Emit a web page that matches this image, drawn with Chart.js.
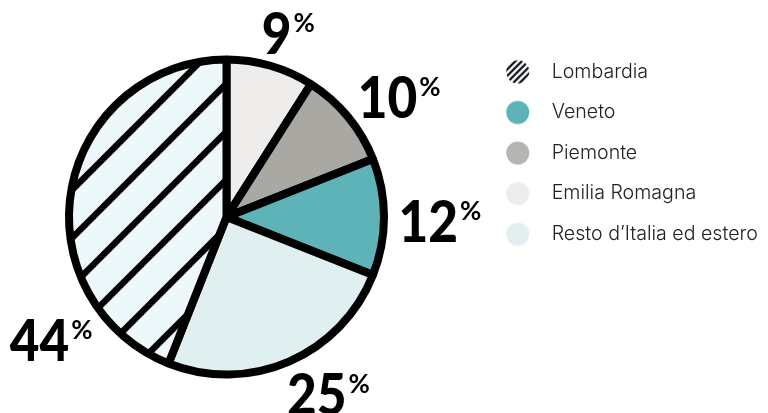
<!DOCTYPE html>
<html><head><meta charset="utf-8">
<script src="https://cdn.jsdelivr.net/npm/chart.js@4.4.1/dist/chart.umd.min.js"></script>
<style>html,body{margin:0;padding:0;background:#fff;} #wrap{width:768px;height:413px;position:relative;}</style>
</head><body><div id="wrap"><canvas id="c"></canvas></div>
<script>
// ---- data ----
const categories = ['Emilia Romagna', 'Piemonte', 'Veneto', 'Resto d’Italia ed estero', 'Lombardia'];
const shares = [9, 10, 12, 25, 44];
const legendOrder = ['Lombardia', 'Veneto', 'Piemonte', 'Emilia Romagna', 'Resto d’Italia ed estero'];

// ---- styles ----
const fills = {
  'Emilia Romagna': '#eeedeb',
  'Piemonte': '#a9a8a3',
  'Veneto': '#5db3b8',
  'Resto d’Italia ed estero': '#e0eff0',
  'Lombardia': '#eef7f9'
};
const legendFills = {
  'Emilia Romagna': '#eeedeb',
  'Piemonte': '#b5b5b1',
  'Veneto': '#5db3b8',
  'Resto d’Italia ed estero': '#e1eff0',
  'Lombardia': '#eef7f9'
};
const LEG_FONT = {family: 'Inter', size: 19.6, weight: 300};

// layout targets
const pieCX = 226.5;
const LEG_PAD = 21;
const textX = 551.7, circleX = 517.7;

// measure legend text to size the legend
const mctx = document.createElement('canvas').getContext('2d');
mctx.font = LEG_FONT.weight + ' ' + LEG_FONT.size + 'px ' + LEG_FONT.family;
const maxTextW = Math.max(...legendOrder.map(t => mctx.measureText(t).width));

let legendLeft = 2 * pieCX;
let LEG_BOX = textX - legendLeft - LEG_PAD - LEG_FONT.size / 2;
let legendWidth = LEG_PAD + LEG_BOX + LEG_FONT.size / 2 + maxTextW + 10;
let padRight = 768 - legendLeft - legendWidth;
let padLeft = 0;
if (padRight < 0) {
  legendLeft = 768 - legendWidth;
  LEG_BOX = textX - legendLeft - LEG_PAD - LEG_FONT.size / 2;
  legendWidth = LEG_PAD + LEG_BOX + LEG_FONT.size / 2 + maxTextW + 10;
  legendLeft = 768 - legendWidth;
  padRight = 0;
  padLeft = Math.max(0, 2 * pieCX - legendLeft);
}
const iconShift = circleX - (legendLeft + LEG_PAD + LEG_BOX / 2);

function makeHatch() {
  const c = document.createElement('canvas');
  c.width = 48; c.height = 48;
  const g = c.getContext('2d');
  g.fillStyle = fills['Lombardia'];
  g.fillRect(0, 0, 48, 48);
  g.strokeStyle = '#000';
  g.lineWidth = 6.5;
  for (let k = -1; k <= 2; k++) {
    const s = 22 + 48 * k;
    g.beginPath();
    g.moveTo(s + 20, -20);
    g.lineTo(s - 68, 68);
    g.stroke();
  }
  return g.createPattern(c, 'repeat');
}

function makeIcon(name) {
  const W = Math.ceil(2 * (Math.abs(iconShift) + 13));
  const c = document.createElement('canvas');
  c.width = W; c.height = 26;
  const g = c.getContext('2d');
  const cx = W / 2 + iconShift, cy = 13;
  g.beginPath();
  g.arc(cx, cy, 11.5, 0, Math.PI * 2);
  g.fillStyle = legendFills[name];
  g.fill();
  if (name === 'Lombardia') {
    g.save();
    g.clip();
    g.strokeStyle = '#111';
    g.lineWidth = 2.2;
    for (let k = -3; k <= 3; k++) {
      const s = cx + cy + k * 6.5;
      g.beginPath();
      g.moveTo(s + 5, -5);
      g.lineTo(s - 31, 31);
      g.stroke();
    }
    g.restore();
  }
  return c;
}
const icons = {};
categories.forEach(n => icons[n] = makeIcon(n));

const pctLabels = {
  id: 'pctLabels',
  afterDatasetsDraw(chart, args, opts) {
    const ctx = chart.ctx;
    const meta = chart.getDatasetMeta(0);
    const vals = chart.data.datasets[0].data;
    meta.data.forEach((arc, i) => {
      const p = arc.getProps(['x', 'y', 'startAngle', 'endAngle'], true);
      const a = (p.startAngle + p.endAngle) / 2 + opts.shift[i] * Math.PI / 180;
      const d = opts.dist[i];
      const ax = p.x + d * Math.cos(a), ay = p.y + d * Math.sin(a);
      const num = String(vals[i]);
      ctx.save();
      ctx.textBaseline = 'alphabetic';
      ctx.textAlign = 'left';
      ctx.fillStyle = '#000';
      ctx.font = opts.numFont;
      const nm = ctx.measureText(num);
      const nw = nm.width * opts.squeeze;
      const nAsc = nm.actualBoundingBoxAscent;
      ctx.font = opts.pctFont;
      const pm = ctx.measureText('%');
      const pw = pm.width;
      const pAsc = pm.actualBoundingBoxAscent;
      const total = nw + opts.gap + pw;
      const x0 = ax - total / 2;
      const base = ay + nAsc / 2;
      ctx.font = opts.numFont;
      ctx.save();
      ctx.translate(x0, base);
      ctx.scale(opts.squeeze, 1);
      ctx.fillText(num, 0, 0);
      ctx.restore();
      ctx.font = opts.pctFont;
      ctx.fillText('%', x0 + nw + opts.gap, base - nAsc + pAsc + 1);
      ctx.restore();
    });
  }
};

new Chart(document.getElementById('c'), {
  type: 'pie',
  data: {
    labels: categories,
    datasets: [{
      data: shares,
      backgroundColor: categories.map(n => n === 'Lombardia' ? makeHatch() : fills[n]),
      borderColor: '#000',
      borderWidth: 8,
      borderAlign: 'center'
    }]
  },
  options: {
    responsive: true,
    maintainAspectRatio: false,
    devicePixelRatio: 1,
    animation: false,
    events: [],
    radius: 157.5,
    layout: {padding: {top: 41, bottom: 20, left: padLeft, right: padRight}},
    plugins: {
      tooltip: {enabled: false},
      legend: {
        position: 'right',
        align: 'start',
        labels: {
          usePointStyle: true,
          pointStyleWidth: LEG_BOX,
          boxHeight: 20,
          padding: LEG_PAD,
          font: LEG_FONT,
          color: '#222',
          generateLabels(chart) {
            return legendOrder.map(name => ({
              text: name,
              pointStyle: icons[name],
              fillStyle: legendFills[name],
              strokeStyle: 'rgba(0,0,0,0)',
              lineWidth: 0,
              hidden: false,
              fontColor: '#222',
              index: chart.data.labels.indexOf(name)
            }));
          }
        }
      },
      pctLabels: {
        shift: [2.4, 4.9, 1.1, -6.6, -45.8],
        dist: [194, 210, 213.5, 204, 214],
        numFont: '900 57px Lato',
        pctFont: '700 26px Lato',
        squeeze: 0.9,
        gap: 2
      }
    }
  },
  plugins: [pctLabels]
});
</script></body></html>
